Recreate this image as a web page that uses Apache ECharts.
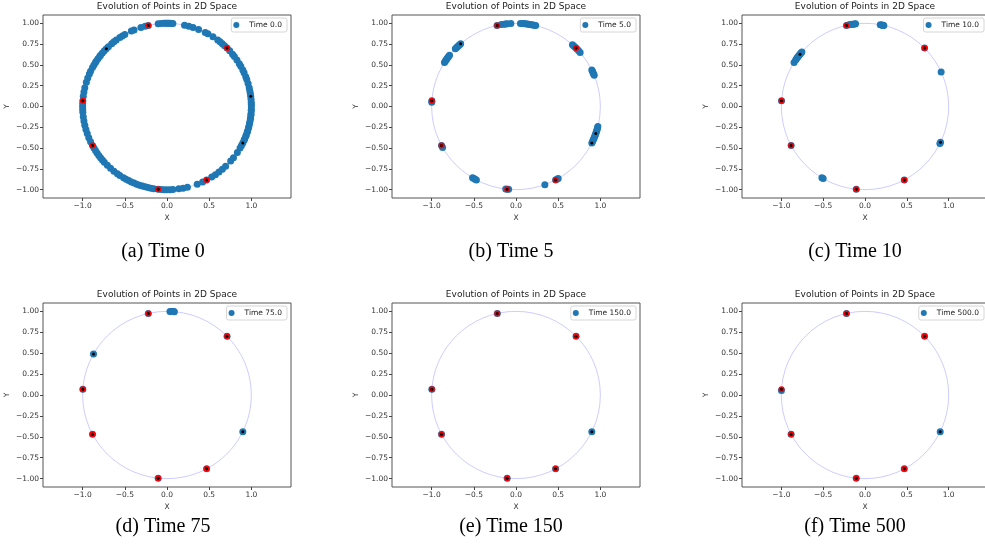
<!DOCTYPE html>
<html>
<head>
<meta charset="utf-8">
<script src="https://cdn.jsdelivr.net/npm/echarts@6/dist/echarts.min.js"></script>
<style>
  html, body { margin: 0; padding: 0; background: #fff; }
  #chart { width: 985px; height: 555px; }
</style>
</head>
<body>
<div id="chart"></div>
<script>
// tick positions
var xTicks = [-1, -0.5, 0, 0.5, 1];
var yTicks = [-1, -0.75, -0.5, -0.25, 0, 0.25, 0.5, 0.75, 1];

// panel labels
var timeLabels = ['Time 0.0', 'Time 5.0', 'Time 10.0', 'Time 75.0', 'Time 150.0', 'Time 500.0'];
var captions = ['(a) Time 0', '(b) Time 5', '(c) Time 10', '(d) Time 75', '(e) Time 150', '(f) Time 500'];

// all points lie on the unit circle, positions read off as angles (degrees)
// red anchors, same in every panel
var fixedAngles = [102.8, 44.6, 176, 208, 264, 298];

// blue points per time step
var blueAngles0 = [330, 332, 334, 336, 337, 339, 340, 342, 343, 345, 346, 348, 349, 351, 352, 354, 355, 357, 358,
  0, 1.5, 3, 5, 7, 9, 11, 13, 16, 19,
  21, 24, 26, 29, 31, 34, 37, 39, 42, 44.6, 47, 49, 51, 53, 57, 61, 63, 68, 72, 75, 78,
  86, 87, 88, 89, 90, 91, 92, 94, 96,
  102.8, 105, 108, 113, 115, 120, 122, 124, 127, 129, 131, 134, 136, 138, 140, 142, 143, 145, 147, 148, 150, 152, 155, 157, 160, 163, 167, 170, 173,
  176, 178, 180, 182, 184, 187, 190, 193, 196, 199, 202, 205, 208,
  210, 212, 214, 216, 218, 220, 222, 225, 228, 231, 234, 236, 239, 241, 243, 245, 247, 249, 251, 253, 255, 257, 259, 261, 264,
  266, 268, 270, 272, 274, 278, 281, 284, 291, 295, 298, 302, 305, 308, 311, 314, 319, 322, 326.5];
var blueAngles5 = [103, 100, 98, 97, 96, 93.5,
  87, 85.5, 84.5, 83.5, 82.5, 81.5, 80.5, 79.5, 78.5, 77.5, 76.5,
  48, 47, 46, 44.6, 43.5, 42, 40.5,
  26, 25, 24, 23, 22,
  346, 345, 344, 343, 342, 341, 340, 339, 338, 337, 336, 335, 334,
  300, 299, 298, 290, 264, 265, 263,
  239, 240, 241, 242, 208, 209.5, 176, 177,
  148, 147, 146, 145, 144, 143, 142,
  136, 135, 134, 133, 132, 131];
var blueAngles10 = [101, 100, 99, 98, 97, 96.5, 102.8,
  79.5, 78.5, 78, 77.5, 77, 44.6, 24.5, 334.5, 333.5,
  298, 264, 240, 239, 208, 176,
  148, 146, 145, 144, 143, 142, 141, 140, 139];
var blueAngles75 = [88, 87, 86.5, 86, 85.5, 85, 150.6, 334, 102.8, 44.6, 176, 208, 264, 298];
var blueAngles150 = [334, 102.8, 44.6, 176, 208, 264, 298];
var blueAngles500 = [334, 102.8, 44.6, 177, 208, 264, 298];

// tracked (black) points per time step
var trackedAngles0 = [136, 7, 334];
var trackedAngles5 = [131, 341, 334];
var trackedAngles10 = [141, 334.5];
var trackedAngles75 = [150.6, 334];
var trackedAngles150 = [334];
var trackedAngles500 = [334];

var blueSets = [blueAngles0, blueAngles5, blueAngles10, blueAngles75, blueAngles150, blueAngles500];
var trackedSets = [trackedAngles0, trackedAngles5, trackedAngles10, trackedAngles75, trackedAngles150, trackedAngles500];

function toXY(deg) {
    var r = deg * Math.PI / 180;
    return [Math.cos(r), Math.sin(r)];
}

function fmt(v, d) {
    var s = Math.abs(v).toFixed(d);
    return v < 0 ? '\u2212' + s : s;
}

// layout of the 3x2 panels
var cols = [{left: 43, width: 248}, {left: 392, width: 248}, {left: 742, width: 246}];
var rows = [{top: 15, height: 183}, {top: 303, height: 184}];
var captionX = [163, 511, 855];
var captionY = [252, 527];

var font = 'DejaVu Sans';
var grids = [], xAxes = [], yAxes = [], legends = [], series = [], graphics = [];

for (var i = 0; i < 6; i++) {
    var c = cols[i % 3], r = rows[Math.floor(i / 3)];

    grids.push({
        left: c.left, top: r.top, width: c.width, height: r.height,
        show: true, borderColor: '#555', borderWidth: 1, backgroundColor: 'transparent',
        outerBoundsMode: 'none'
    });

    xAxes.push({
        gridIndex: i, type: 'value', min: -1.47, max: 1.47, position: 'bottom',
        name: 'X', nameLocation: 'middle', nameGap: 16,
        nameTextStyle: {fontSize: 7.5, color: '#333', fontFamily: font},
        axisLine: {show: false, onZero: false}, splitLine: {show: false},
        axisTick: {show: true, length: 3, customValues: xTicks, lineStyle: {color: '#444'}},
        axisLabel: {customValues: xTicks, formatter: function (v) { return fmt(v, 1); },
            fontSize: 7.5, color: '#333', margin: 4, fontFamily: font}
    });

    yAxes.push({
        gridIndex: i, type: 'value', min: -1.1, max: 1.1, position: 'left',
        name: 'Y', nameLocation: 'middle', nameGap: 32,
        nameTextStyle: {fontSize: 7.5, color: '#333', fontFamily: font},
        axisLine: {show: false, onZero: false}, splitLine: {show: false},
        axisTick: {show: true, length: 3, customValues: yTicks, lineStyle: {color: '#444'}},
        axisLabel: {customValues: yTicks, formatter: function (v) { return fmt(v, 2); },
            fontSize: 7.5, color: '#333', margin: 4, fontFamily: font}
    });

    legends.push({
        data: [timeLabels[i]],
        right: 985 - (c.left + c.width - 4),
        top: r.top + 3,
        orient: 'vertical',
        icon: 'circle', itemWidth: 16, itemHeight: 6,
        padding: [3, 5, 3, 2],
        backgroundColor: '#fff', borderColor: '#ccc', borderWidth: 0.8, borderRadius: 2,
        textStyle: {fontSize: 7.5, color: '#222', fontFamily: font},
        selectedMode: false
    });

    // panel title
    graphics.push({
        type: 'text', x: c.left + c.width / 2, y: r.top - 8,
        style: {text: 'Evolution of Points in 2D Space', font: '9px "DejaVu Sans"', fill: '#222',
            textAlign: 'center', align: 'center', textVerticalAlign: 'middle', verticalAlign: 'middle'}
    });
    // caption under the panel
    graphics.push({
        type: 'text', x: captionX[i % 3], y: captionY[Math.floor(i / 3)],
        style: {text: captions[i], font: '20px "Liberation Serif"', fill: '#000',
            textAlign: 'center', align: 'center', textVerticalAlign: 'middle', verticalAlign: 'middle'}
    });

    // unit circle
    series.push({
        type: 'custom', xAxisIndex: i, yAxisIndex: i, silent: true, z: 1, clip: false,
        data: [[0, 0, 1]],
        renderItem: function (params, api) {
            var ctr = api.coord([api.value(0), api.value(1)]);
            var rx = api.size([api.value(2), 0])[0];
            var ry = api.size([0, api.value(2)])[1];
            return {
                type: 'ellipse',
                shape: {cx: ctr[0], cy: ctr[1], rx: rx, ry: ry},
                style: {fill: 'none', stroke: 'rgba(0,0,255,0.2)', lineWidth: 1}
            };
        }
    });

    series.push({
        name: timeLabels[i], type: 'scatter', xAxisIndex: i, yAxisIndex: i, z: 2,
        symbolSize: 7, itemStyle: {color: '#1f77b4', opacity: 1},
        data: blueSets[i].map(toXY)
    });
    series.push({
        name: 'anchors' + i, type: 'scatter', xAxisIndex: i, yAxisIndex: i, z: 3,
        symbolSize: 6, itemStyle: {color: '#ff0000', opacity: 1},
        data: fixedAngles.map(toXY)
    });
    series.push({
        name: 'tracked' + i, type: 'scatter', xAxisIndex: i, yAxisIndex: i, z: 4,
        symbolSize: 3, itemStyle: {color: '#000', opacity: 1},
        data: fixedAngles.concat(trackedSets[i]).map(toXY)
    });
}

var myChart = echarts.init(document.getElementById('chart'));
myChart.setOption({
    animation: false,
    backgroundColor: '#fff',
    grid: grids,
    xAxis: xAxes,
    yAxis: yAxes,
    legend: legends,
    graphic: graphics,
    series: series
});
</script>
</body>
</html>
